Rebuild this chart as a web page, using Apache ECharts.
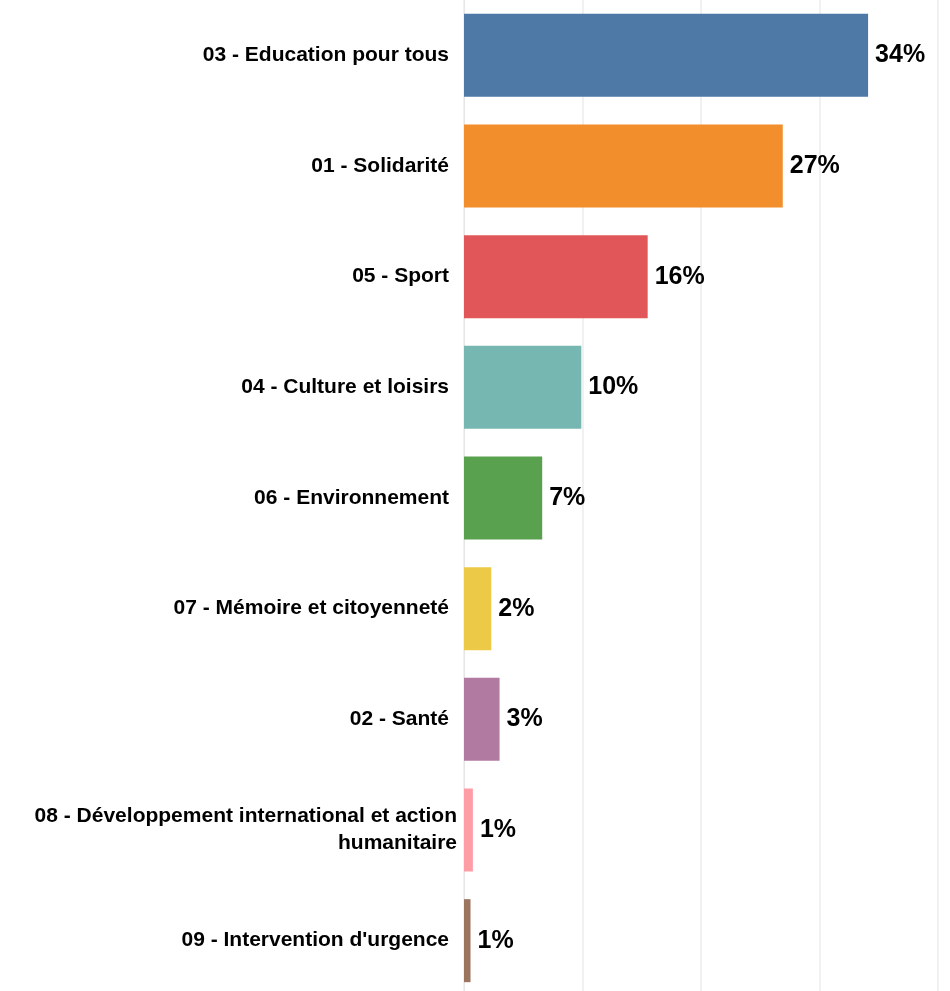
<!DOCTYPE html>
<html>
<head>
<meta charset="utf-8">
<script src="https://cdn.jsdelivr.net/npm/echarts@6/dist/echarts.min.js"></script>
<style>
html,body{margin:0;padding:0;background:#fff;overflow:hidden;}
#chart{width:950px;height:996px;}
</style>
</head>
<body>
<div id="chart"></div>
<script>
const categories = [
  "03 - Education pour tous",
  "01 - Solidarité",
  "05 - Sport",
  "04 - Culture et loisirs",
  "06 - Environnement",
  "07 - Mémoire et citoyenneté",
  "02 - Santé",
  "08 - Développement international et action\nhumanitaire",
  "09 - Intervention d'urgence"
];
const values = [34.1, 26.9, 15.5, 9.9, 6.6, 2.3, 3.0, 0.75, 0.55];
const valueLabels = ["34%", "27%", "16%", "10%", "7%", "2%", "3%", "1%", "1%"];
const colors = ["#4E79A7", "#F28E2B", "#E15759", "#76B7B2", "#59A14F", "#EDC948", "#B07AA1", "#FF9DA7", "#9C755F"];
const xTicks = [0, 10, 20, 30, 40];

const chart = echarts.init(document.getElementById('chart'), null, {renderer: 'canvas'});
const FONT = '"Liberation Sans", Arial, sans-serif';
chart.setOption({
  animation: false,
  backgroundColor: '#ffffff',
  grid: {left: 464, right: 12, top: 0, bottom: 0, containLabel: false},
  xAxis: {
    type: 'value',
    min: xTicks[0],
    max: xTicks[xTicks.length - 1],
    interval: 10,
    axisLabel: {show: false},
    axisTick: {show: false},
    axisLine: {show: false},
    splitLine: {show: true, lineStyle: {color: '#ededed', width: 1.5}}
  },
  yAxis: {
    type: 'category',
    inverse: true,
    data: categories,
    axisTick: {show: false},
    axisLine: {show: true, lineStyle: {color: '#e6e6e6', width: 1}},
    axisLabel: {
      margin: 7,
      align: 'right',
      formatter: function (v) {
        if (v.indexOf('\n') >= 0) return '{w|' + v + '}';
        return '{n|' + v + '}';
      },
      rich: {
        n: {fontFamily: FONT, fontWeight: 'bold', fontSize: 21, color: '#000', padding: [0, 8, 0, 0]},
        w: {fontFamily: FONT, fontWeight: 'bold', fontSize: 21, color: '#000', lineHeight: 27, align: 'right'}
      }
    }
  },
  series: [{
    type: 'bar',
    barWidth: 83,
    data: values.map((v, i) => ({value: v, itemStyle: {color: colors[i]}})),
    label: {
      show: true,
      position: 'right',
      distance: 7,
      formatter: p => valueLabels[p.dataIndex],
      fontFamily: FONT,
      fontWeight: 'bold',
      fontSize: 25,
      color: '#000'
    }
  }]
});
</script>
</body>
</html>
